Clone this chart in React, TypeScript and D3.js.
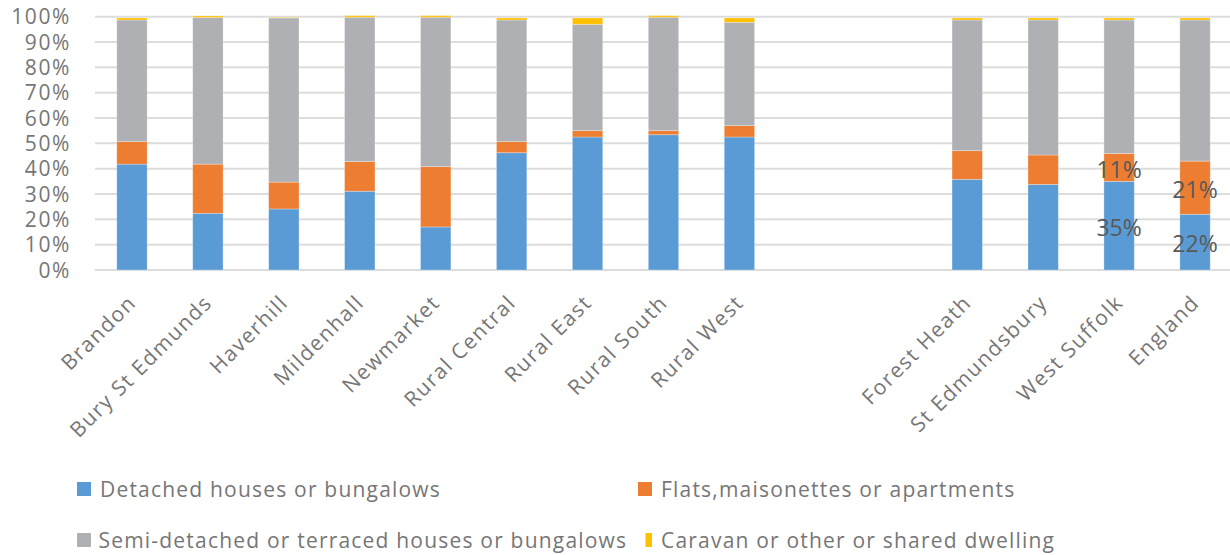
import React from "react";
import * as d3 from "d3";

// Dwelling type shares (%) by area, West Suffolk
const towns = [
  "Brandon",
  "Bury St Edmunds",
  "Haverhill",
  "Mildenhall",
  "Newmarket",
  "Rural Central",
  "Rural East",
  "Rural South",
  "Rural West",
];
const districts = ["Forest Heath", "St Edmundsbury", "West Suffolk", "England"];
const categories = [...towns, ...districts];

const detached = [41.8, 22.4, 24.1, 31.1, 17.0, 46.3, 52.5, 53.4, 52.5, 35.8, 33.8, 35, 22];
const flats = [8.9, 19.4, 10.6, 11.7, 23.8, 4.4, 2.5, 1.6, 4.5, 11.3, 11.6, 11, 21];
const semiTerraced = [48.0, 57.9, 64.8, 57.0, 59.0, 48.0, 42.0, 44.8, 40.8, 51.6, 53.3, 52.7, 55.7];
const caravanOther = [0.8, 0.6, 0.2, 0.6, 0.6, 0.8, 2.5, 0.6, 1.7, 0.8, 0.8, 0.8, 0.8];

const seriesNames = [
  "Detached houses or bungalows",
  "Flats,maisonettes or apartments",
  "Semi-detached or terraced houses or bungalows",
  "Caravan or other or shared dwelling",
];
const seriesValues = [detached, flats, semiTerraced, caravanOther];
const seriesColors = ["#5b9bd5", "#ed7d31", "#afb0b3", "#ffc000"];

const yTicks = [0, 10, 20, 30, 40, 50, 60, 70, 80, 90, 100];

// Areas whose detached / flats segments carry value labels
const labelledAreas = ["West Suffolk", "England"];
const labelledSeries = [0, 1];

// Empty slots between the towns and the district/national group
const GAP_SLOTS = 2;

const W = 1230;
const H = 555;
const FONT = "'Open Sans', 'DejaVu Sans', sans-serif";
const AXIS_GRAY = "#767676";

export default function App() {
  const slotCount = categories.length + GAP_SLOTS;
  const slotOf = (i: number) => (i < towns.length ? i : i + GAP_SLOTS);

  const x = d3
    .scaleBand<number>()
    .domain(d3.range(slotCount))
    .range([94, 1233])
    .paddingInner(0.6)
    .paddingOuter(0.3);

  const y = d3.scaleLinear().domain([0, 100]).range([270, 16.7]);

  const rows = categories.map((name, i) => {
    const r: any = { name, i };
    seriesValues.forEach((vals, s) => (r["s" + s] = vals[i]));
    return r;
  });
  const stack = d3.stack<any>().keys(seriesValues.map((_, s) => "s" + s));
  const layers = stack(rows);

  const bw = x.bandwidth();

  // Legend layout: two columns, two rows
  const legendItems = [
    { s: 0, sx: 77, sw: 14, tx: 100, row: 0 },
    { s: 1, sx: 638, sw: 14, tx: 661, row: 0 },
    { s: 2, sx: 77, sw: 14, tx: 98.5, row: 1 },
    { s: 3, sx: 645.5, sw: 6.5, tx: 661, row: 1 },
  ];
  const legendRowBaseline = [497, 548];

  return (
    <svg
      width={W}
      height={H}
      style={{ position: "absolute", left: 0, top: 0, background: "#fff" }}
      fontFamily={FONT}
    >
      {/* gridlines */}
      {yTicks.map((t) => (
        <line
          key={t}
          x1={95}
          x2={1230}
          y1={y(t)}
          y2={y(t)}
          stroke="#dcdcdc"
          strokeWidth={2}
        />
      ))}
      {/* y tick labels */}
      {yTicks.map((t) => (
        <text
          key={"yl" + t}
          x={71}
          y={y(t)}
          dy="0.36em"
          textAnchor="end"
          fontSize={21}
          letterSpacing={1.6}
          fill={AXIS_GRAY}
        >
          {t}%
        </text>
      ))}

      {/* stacked bars */}
      {layers.map((layer, s) => (
        <g key={"layer" + s} fill={seriesColors[s]}>
          {layer.map((d, i) => {
            const x0 = x(slotOf(i))!;
            return (
              <rect
                key={i}
                x={x0}
                width={bw}
                y={y(d[1])}
                height={Math.max(0, y(d[0]) - y(d[1]))}
                stroke="#ffffff"
                strokeOpacity={0.35}
                strokeWidth={0.8}
              />
            );
          })}
        </g>
      ))}

      {/* value labels */}
      {labelledAreas.map((area) => {
        const i = categories.indexOf(area);
        const cx = x(slotOf(i))! + bw / 2;
        return labelledSeries.map((s) => {
          const d = layers[s][i];
          const mid = (y(d[0]) + y(d[1])) / 2;
          return (
            <text
              key={area + s}
              x={cx}
              y={mid + 2}
              dy="0.36em"
              textAnchor="middle"
              fontSize={23}
              fill="#595959"
            >
              {Math.round(seriesValues[s][i])}%
            </text>
          );
        });
      })}

      {/* category labels, rotated */}
      {categories.map((name, i) => {
        const ax = x(slotOf(i))! + bw / 2 + 5.5;
        const ay = 304;
        return (
          <text
            key={"xl" + name}
            x={ax}
            y={ay}
            textAnchor="end"
            fontSize={21}
            letterSpacing={1.5}
            fill={AXIS_GRAY}
            transform={`rotate(-45 ${ax} ${ay})`}
          >
            {name}
          </text>
        );
      })}

      {/* legend */}
      {legendItems.map((it) => {
        const base = legendRowBaseline[it.row];
        return (
          <g key={"lg" + it.s}>
            <rect
              x={it.sx}
              y={base - 15}
              width={it.sw}
              height={14}
              fill={seriesColors[it.s]}
            />
            <text
              x={it.tx}
              y={base}
              fontSize={21}
              letterSpacing={1.2}
              fill={AXIS_GRAY}
            >
              {seriesNames[it.s]}
            </text>
          </g>
        );
      })}
    </svg>
  );
}
